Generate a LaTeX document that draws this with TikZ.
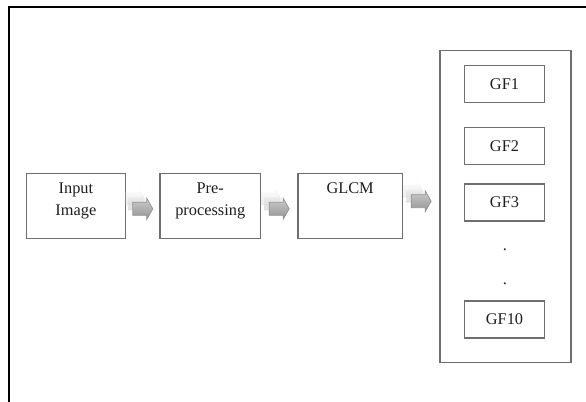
\documentclass[tikz,border=0pt]{standalone}
\usepackage{fontspec}
\setmainfont{Liberation Serif}
\usetikzlibrary{positioning,calc}
\definecolor{boxgray}{HTML}{6F6F6F}
\definecolor{ink}{HTML}{1E1E1E}
\definecolor{shaftgray}{HTML}{A8A8A8}

\tikzset{
  procbox/.style={draw=boxgray,line width=0.75pt,minimum height=1.3cm,inner sep=0pt},
  gfbox/.style={draw=boxgray,line width=0.75pt,minimum width=1.59cm,minimum height=0.74cm,inner sep=0pt,text=ink},
  boxlbl/.style={align=center,inner sep=0pt,anchor=north,text=ink},
  blockarrow/.pic={
    \path[pic actions] (-10,-6.5) -- (4,-6.5) -- (4,-10.5) -- (10,0) -- (4,10.5) -- (4,6.5) -- (-10,6.5) -- cycle;},
  flow/.style={draw=gray!85,line width=0.4pt,top color=gray!40,bottom color=gray!85},
  ghost/.style={top color=gray!10,bottom color=shaftgray,opacity=#1}
}

\begin{document}
\begin{tikzpicture}[x=0.02cm,y=-0.02cm,font=\fontsize{9.3}{12.3}\selectfont]
    \useasboundingbox (0,0) rectangle (586,402);
    \draw[black,line width=1.1pt] (9,402) |- (586,7);

    % processing chain
    \node[procbox,minimum width=1.99cm] (img) at (75.9,205.8) {};
    \node[procbox,minimum width=2.01cm] (pre) at (210.25,205.8) {};
    \node[procbox,minimum width=2.09cm] (glcm) at (350.15,205.8) {};
    \node[boxlbl] (imglbl) at ([yshift=-0.195cm]img.north) {Input\\Image};
    \node[boxlbl] (prelbl) at ([yshift=-0.195cm]pre.north) {Pre-\\processing};
    \node[boxlbl] (glcmlbl) at ([yshift=-0.195cm]glcm.north) {GLCM};

    % feature column
    \node[draw=boxgray,line width=0.75pt,minimum width=2.62cm,minimum height=6.24cm] (feat) at (505.5,206.7) {};
    \foreach \n/\yy in {1/84,2/146,3/202.5,10/319.5}
      \node[gfbox] (gf\n) at (504.5,\yy) {GF\n};
    \node[anchor=base,inner sep=0pt,text=ink] (dot1) at (505,250.5) {.};
    \node[anchor=base,inner sep=0pt,text=ink] (dot2) at (505,285) {.};

    % block arrows
    \foreach \a/\b/\s in {img/pre/3,pre/glcm/3,glcm/feat/-5}{
      \coordinate (m\a) at ($(\a.east)!0.5!(\b.west)+(0,\s)$);
      \pic[ghost=0.25] at ([shift={(-8,-10)}]m\a) {blockarrow};
      \pic[ghost=0.45] at ([shift={(-5,-5)}]m\a) {blockarrow};
      \pic[flow] at (m\a) {blockarrow};}
  \end{tikzpicture}
\end{document}
